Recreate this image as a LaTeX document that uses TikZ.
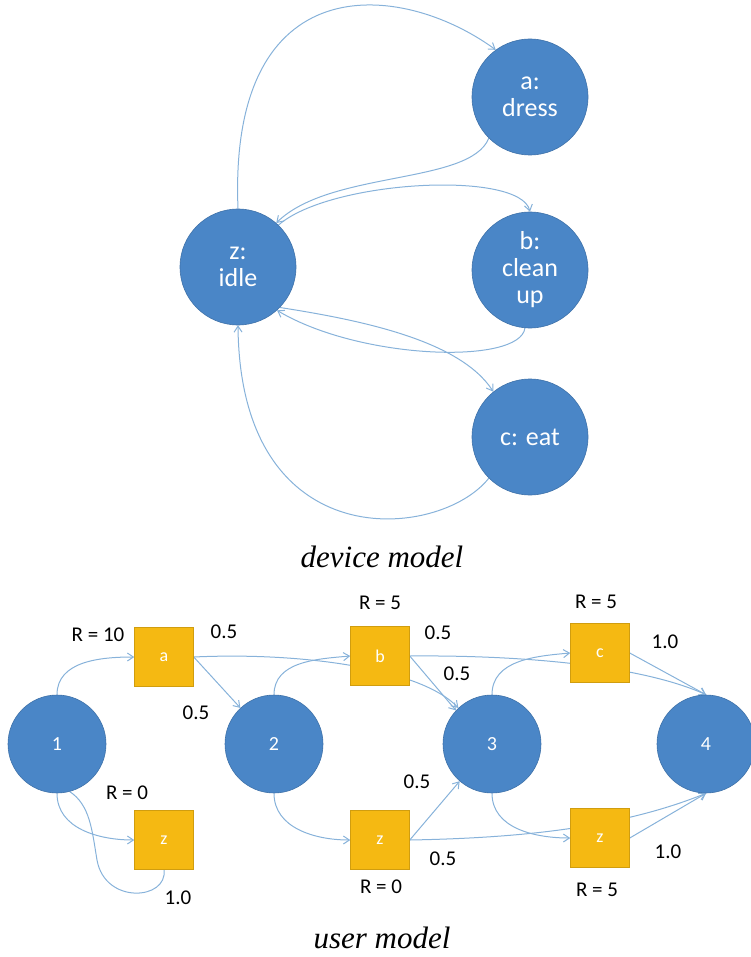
\documentclass[tikz,border=0pt]{standalone}
\usepackage{fontspec}
\setsansfont{Carlito}
\newfontfamily\capfont{Liberation Serif}
\usetikzlibrary{arrows.meta}
\definecolor{stateblue}{RGB}{74,134,199}
\definecolor{actgold}{RGB}{245,185,18}
\definecolor{edgeblue}{RGB}{135,178,218}
\pgfdeclarelayer{edges}
\pgfsetlayers{edges,main}
\begin{document}
\begin{tikzpicture}[x=1pt,y=-1pt,
  devstate/.style={circle,fill=stateblue,draw=stateblue!85!black,line width=0.6pt,
    minimum size=116pt,inner sep=0pt,text=white,align=center,
    font=\sffamily\fontsize{26}{27}\selectfont},
  usrstate/.style={circle,fill=stateblue,draw=stateblue!85!black,line width=0.6pt,
    minimum size=98pt,inner sep=0pt,text=white,
    font=\sffamily\fontsize{20}{22}\selectfont},
  actbox/.style={rectangle,fill=actgold,draw=actgold!85!black,line width=0.5pt,
    minimum size=59pt,inner sep=0pt,text=white,
    font=\sffamily\fontsize{18}{20}\selectfont},
  lbl/.style={font=\sffamily\fontsize{21}{23}\selectfont,text=black},
  caption/.style={font=\capfont\itshape\fontsize{31}{33}\selectfont},
  trans/.style={draw=edgeblue,line width=1pt,-{Straight Barb[length=6pt,width=8pt]}},
  plain/.style={draw=edgeblue,line width=1pt}]
\useasboundingbox (0,0) rectangle (751,957);

% ---------- device model ----------
\node[devstate] (z) at (238,267) {z:\\idle};
\node[devstate] (a) at (530,97) {a:\\dress};
\node[devstate] (b) at (530,270) {b:\\clean\\up};
\node[devstate] (c) at (530,437) {c: eat};
\node[caption] (devcap) at (382,557) {device model};

\begin{pgfonlayer}{edges}
\draw[trans] (z.north) .. controls (228,-35) and (400,-20) .. (a.126);
\draw[trans] (a.225) .. controls (470,185) and (330,170) .. (z.49);
\draw[trans] (z.46) .. controls (330,180) and (520,170) .. (b.north);
\draw[trans] (b.265) .. controls (520,365) and (360,360) .. (z.-48);
\draw[trans] (z.-44) .. controls (360,320) and (460,340) .. (c.129);
\draw[trans] (c.225) .. controls (440,540) and (240,560) .. (z.south);
\end{pgfonlayer}

% ---------- user model ----------
\node[usrstate] (s1) at (57,744) {1};
\node[usrstate] (s2) at (274,744) {2};
\node[usrstate] (s3) at (492,744) {3};
\node[usrstate] (s4) at (706,744) {4};
\node[actbox] (ua) at (164,657) {a};
\node[actbox] (uz1) at (164,840) {z};
\node[actbox] (ub) at (380,656) {b};
\node[actbox] (uz2) at (380,840) {z};
\node[actbox] (uc) at (600,653) {c};
\node[actbox] (uz3) at (600,838) {z};
\node[caption] (usrcap) at (382,938) {user model};

\begin{pgfonlayer}{edges}
\draw[trans] (s1.north) to[out=90,in=180] (ua.west);
\draw[trans] (s1.south) to[out=-90,in=180] (uz1.west);
\draw[plain] (uz1.south) .. controls (168,900) and (105,905) .. (97,860)
  .. controls (92,830) and (90,805) .. (s1.-75);
\draw[trans] (ua.east) -- (s2.133);
\draw[trans] (ua.east) .. controls (300,652) and (420,668) .. (s3.133);
\draw[trans] (s2.north) to[out=90,in=185] (ub.west);
\draw[trans] (s2.south) to[out=-90,in=180] (uz2.west);
\draw[trans] (ub.east) -- (s3.137);
\draw[trans] (ub.east) .. controls (520,655) and (640,665) .. (s4.north);
\draw[trans] (uz2.east) -- (s3.229);
\draw[trans] (uz2.east) .. controls (520,838) and (620,828) .. (s4.south);
\draw[trans] (s3.north) to[out=90,in=185] (uc.west);
\draw[trans] (s3.south) to[out=-90,in=180] (uz3.west);
\draw[trans] (uc.east) -- (s4.north);
\draw[trans] (uz3.east) -- (s4.south);
\end{pgfonlayer}

% rewards and probabilities
\node[lbl] (ra) at (98,635) {R = 10};
\node[lbl] (pa1) at (224,632) {0.5};
\node[lbl] (pa2) at (196,713) {0.5};
\node[lbl] (rz1) at (127,793) {R = 0};
\node[lbl] (pz1) at (178,898) {1.0};
\node[lbl] (rb) at (380,603) {R = 5};
\node[lbl] (pb1) at (438,633) {0.5};
\node[lbl] (pb2) at (457,674) {0.5};
\node[lbl] (pz2a) at (417,782) {0.5};
\node[lbl] (pz2b) at (443,859) {0.5};
\node[lbl] (rz2) at (381,887) {R = 0};
\node[lbl] (rc) at (596,602) {R = 5};
\node[lbl] (pc) at (665,642) {1.0};
\node[lbl] (pz3) at (668,852) {1.0};
\node[lbl] (rz3) at (597,890) {R = 5};
\end{tikzpicture}
\end{document}
